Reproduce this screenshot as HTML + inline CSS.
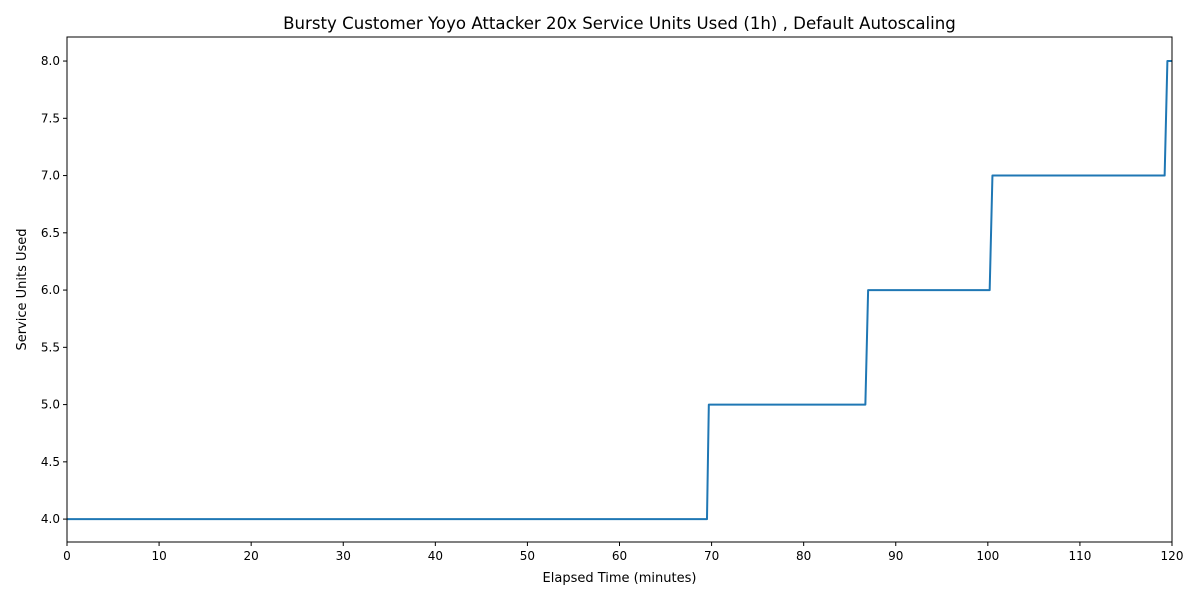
<!DOCTYPE html>
<html><head><meta charset="utf-8"><style>
body{margin:0;background:#fff;font-family:"Liberation Sans","DejaVu Sans",sans-serif}
svg text{font-family:"DejaVu Sans","Liberation Sans",sans-serif;fill:#000}
</style></head><body>
<svg id="c" width="1200" height="600"></svg>
<script>
const xTicks=[0,10,20,30,40,50,60,70,80,90,100,110,120];
const yTicks=[4.0,4.5,5.0,5.5,6.0,6.5,7.0,7.5,8.0];
const times=[0,69.5,69.7,86.7,87.0,100.2,100.5,119.2,119.5,120];
const values=[4,4,5,5,6,6,7,7,8,8];
const L=67,R=1172,T=37,B=542,xmin=0,xmax=120,ymin=3.8,ymax=8.21;
const X=v=>L+(v-xmin)/(xmax-xmin)*(R-L);
const Y=v=>B-(v-ymin)/(ymax-ymin)*(B-T);
const svg=document.getElementById('c');const NS='http://www.w3.org/2000/svg';
function mk(t,a,p){const e=document.createElementNS(NS,t);for(const k in a)e.setAttribute(k,a[k]);(p||svg).appendChild(e);return e;}
let pts=times.map((t,i)=>X(t)+','+Y(values[i])).join(' ');
const line=mk('polyline',{points:pts,fill:'none',stroke:'#1f77b4','stroke-width':2,'stroke-linejoin':'round'});


const frame=mk('rect',{x:L,y:T,width:R-L,height:B-T,fill:'none',stroke:'#000','stroke-width':1});


xTicks.forEach(v=>{mk('line',{x1:X(v),x2:X(v),y1:B,y2:B+4,stroke:'#000'});
const t=mk('text',{x:X(v),y:B+18,'text-anchor':'middle','font-size':12});t.textContent=v;

});
yTicks.forEach(v=>{mk('line',{x1:L-4,x2:L,y1:Y(v),y2:Y(v),stroke:'#000'});
const t=mk('text',{x:L-7,y:Y(v)+4,'text-anchor':'end','font-size':12});t.textContent=v.toFixed(1);

});
const tt=mk('text',{x:(L+R)/2,y:29,'text-anchor':'middle','font-size':16.6});tt.textContent='Bursty Customer Yoyo Attacker 20x Service Units Used (1h) , Default Autoscaling';


const xl=mk('text',{x:(L+R)/2,y:582,'text-anchor':'middle','font-size':13});xl.textContent='Elapsed Time (minutes)';


const yl=mk('text',{x:26,y:(T+B)/2,'text-anchor':'middle','font-size':13,transform:'rotate(-90 26 '+(T+B)/2+')'});yl.textContent='Service Units Used';


</script></body></html>
